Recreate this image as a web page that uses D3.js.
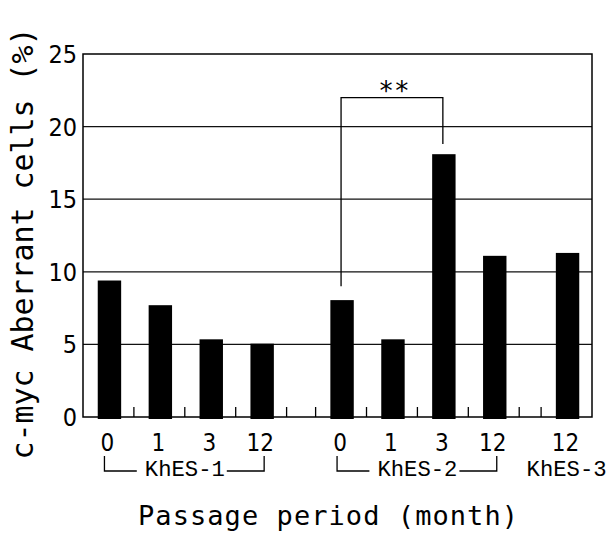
<!DOCTYPE html>
<html>
<head>
<meta charset="utf-8">
<script src="https://cdn.jsdelivr.net/npm/d3@7"></script>
<style>
  body { margin: 0; background: #fff; }
  svg { display: block; }
</style>
</head>
<body>
<div id="chart"></div>
<script>
// data
const months = ['0', '1', '3', '12', '0', '1', '3', '12', '12']
const lines = ['KhES-1', 'KhES-1', 'KhES-1', 'KhES-1', 'KhES-2', 'KhES-2', 'KhES-2', 'KhES-2', 'KhES-3']
const aberrant = [9.4, 7.7, 5.35, 5.05, 8.05, 5.35, 18.1, 11.1, 11.3]
const yTicks = [0, 5, 10, 15, 20, 25]
const groupNames = ['KhES-1', 'KhES-2', 'KhES-3']
// significance: KhES-2 month 0 vs month 3
const sig = { from: 4, to: 6, label: '**', top: 22, fromEnd: 9.0, toEnd: 18.8 }

const width = 614
const height = 542
const margin = { top: 54, left: 83, right: 22, bottom: 125 }
const plotW = width - margin.left - margin.right
const plotH = height - margin.top - margin.bottom

// narrower empty slots between the cell-line groups
const gapAfter = { 'KhES-1': 0.57, 'KhES-2': 0.43 }
const barFrac = 0.46

const narrow = "'Liberation Sans Narrow', 'DejaVu Sans Condensed', sans-serif"
const mono = "'DejaVu Sans Mono', 'Liberation Mono', monospace"

// slot starts in slot units
const slots = []
let pos = 0
months.forEach((m, i) => {
  slots.push({ month: m, line: lines[i], value: aberrant[i], start: pos })
  pos += 1
  if (i < months.length - 1 && lines[i + 1] !== lines[i]) pos += gapAfter[lines[i]]
})
const totalUnits = pos

const x = d3.scaleLinear().domain([0, totalUnits]).range([0, plotW])
const y = d3.scaleLinear().domain([0, 25]).range([plotH, 0])
const cx = d => x(d.start + 0.5)

const svg = d3.select('#chart')
  .append('svg')
  .attr('width', width)
  .attr('height', height)

const g = svg.append('g')
  .attr('transform', `translate(${margin.left},${margin.top})`)

// gridlines
g.selectAll('.grid')
  .data(yTicks.filter(t => t > 0 && t < 25))
  .enter()
  .append('line')
  .attr('x1', 0)
  .attr('x2', plotW)
  .attr('y1', d => y(d))
  .attr('y2', d => y(d))
  .attr('stroke', '#111')
  .attr('stroke-width', 1.3)

// bars
g.selectAll('.bar')
  .data(slots)
  .enter()
  .append('rect')
  .attr('x', d => cx(d) - (x(barFrac) - x(0)) / 2 + 1)
  .attr('width', x(barFrac) - x(0))
  .attr('y', d => y(d.value))
  .attr('height', d => y(0) - y(d.value) + 2)
  .attr('fill', '#000')

// frame
g.append('rect')
  .attr('width', plotW)
  .attr('height', plotH)
  .attr('fill', 'none')
  .attr('stroke', '#000')
  .attr('stroke-width', 1.5)

// small inner ticks at slot boundaries
const bounds = []
slots.forEach((d, i) => {
  if (i > 0) bounds.push(d.start)
  if (i < slots.length - 1 && slots[i + 1].start - d.start > 1) bounds.push(d.start + 1)
})
g.selectAll('.xtick')
  .data(bounds)
  .enter()
  .append('line')
  .attr('x1', d => x(d))
  .attr('x2', d => x(d))
  .attr('y1', plotH)
  .attr('y2', plotH - 10)
  .attr('stroke', '#000')
  .attr('stroke-width', 1.3)

// y tick labels
g.selectAll('.ylabel')
  .data(yTicks)
  .enter()
  .append('text')
  .attr('x', -6)
  .attr('y', d => y(d))
  .attr('dy', '0.36em')
  .attr('text-anchor', 'end')
  .attr('font-family', narrow)
  .attr('font-size', 25)
  .text(d => d)

// x tick labels
g.selectAll('.xlabel')
  .data(slots)
  .enter()
  .append('text')
  .attr('x', d => cx(d) - 1)
  .attr('y', plotH + 34)
  .attr('text-anchor', 'middle')
  .attr('font-family', narrow)
  .attr('font-size', 24)
  .text(d => d.month)

// cell-line group labels with brackets
groupNames.forEach(name => {
  const members = slots.filter(d => d.line === name)
  const x0 = cx(members[0])
  const x1 = cx(members[members.length - 1])
  const mid = (x0 + x1) / 2
  g.append('text')
    .attr('x', mid)
    .attr('y', plotH + 59)
    .attr('text-anchor', 'middle')
    .attr('font-family', "'Liberation Mono', 'DejaVu Sans Mono', monospace")
    .attr('font-size', 22)
    .attr('textLength', 80)
    .attr('lengthAdjust', 'spacingAndGlyphs')
    .text(name)
  if (members.length > 1) {
    const half = 40
    const ly = plotH + 54
    g.append('path')
      .attr('d', `M${x0 - 4},${plotH + 39}V${ly}H${mid - half - 8}`)
      .attr('fill', 'none')
      .attr('stroke', '#000')
      .attr('stroke-width', 1.3)
    g.append('path')
      .attr('d', `M${mid + half + 2},${ly}H${x1 + 3}V${plotH + 39}`)
      .attr('fill', 'none')
      .attr('stroke', '#000')
      .attr('stroke-width', 1.3)
  }
})

// significance bracket
const sa = cx(slots[sig.from])
const sb = cx(slots[sig.to])
g.append('path')
  .attr('d', `M${sa},${y(sig.fromEnd)}V${y(sig.top)}H${sb}V${y(sig.toEnd)}`)
  .attr('fill', 'none')
  .attr('stroke', '#000')
  .attr('stroke-width', 1.3)
g.append('text')
  .attr('x', (sa + sb) / 2 + 2)
  .attr('y', y(sig.top) + 2)
  .attr('text-anchor', 'middle')
  .attr('font-family', mono)
  .attr('font-size', 26)
  .text(sig.label)

// axis titles
svg.append('text')
  .attr('transform', `translate(33,${margin.top + plotH / 2 + 8}) rotate(-90)`)
  .attr('text-anchor', 'middle')
  .attr('font-family', mono)
  .attr('font-size', 30)
  .attr('textLength', 432)
  .attr('lengthAdjust', 'spacing')
  .text('c-myc Aberrant cells (%)')

svg.append('text')
  .attr('x', 328)
  .attr('y', 525)
  .attr('text-anchor', 'middle')
  .attr('font-family', mono)
  .attr('font-size', 27)
  .attr('textLength', 380)
  .attr('lengthAdjust', 'spacing')
  .text('Passage period (month)')
</script>
</body>
</html>
